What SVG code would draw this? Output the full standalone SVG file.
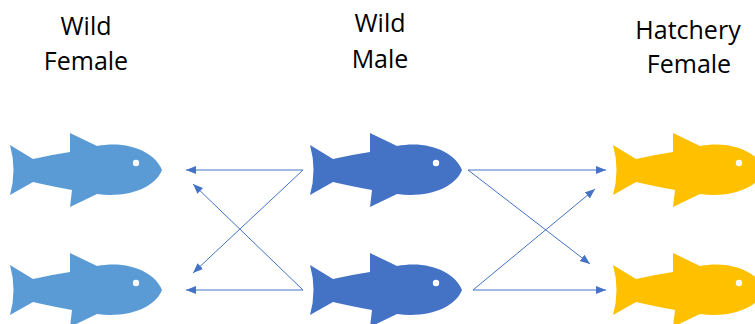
<svg xmlns="http://www.w3.org/2000/svg" width="755" height="324" viewBox="0 0 755 324">
<style>
.lbl{font-family:"Open Sans","Liberation Sans",sans-serif;font-size:25px;fill:#000;text-anchor:middle}
.wf{fill:#5B9BD5}.wm{fill:#4472C4}.hf{fill:#FFC000}
.eye{fill:#fff}
.con{stroke:#4472C4;stroke-width:1;fill:none;marker-end:url(#ah)}
</style>
<defs>
<marker id="ah" markerUnits="userSpaceOnUse" markerWidth="11" markerHeight="9" refX="10" refY="4" orient="auto">
<path d="M0,0 L10,4 L0,8 Z" fill="#4472C4"/>
</marker>
<g id="fish">
<path d="M10,145 L33,159 Q50,155 70,152 L70,133 L97,146 C128,140 155,152 162,170 C155,188 128,198 97,194 L70,207 L72,190 Q50,186 33,182 L10,195 Q17,170 10,145 Z"/>
<circle class="eye" cx="136" cy="163" r="3.2"/>
</g>
</defs>
<g id="wild-female">
<text class="lbl" x="86" y="35">Wild</text>
<text class="lbl" x="86" y="70">Female</text>
<use href="#fish" class="wf"/>
<use href="#fish" class="wf" y="120"/>
</g>
<g id="wild-male">
<text class="lbl" x="380" y="32">Wild</text>
<text class="lbl" x="380" y="68">Male</text>
<use href="#fish" class="wm" x="300"/>
<use href="#fish" class="wm" x="300" y="120"/>
</g>
<g id="hatchery-female">
<text class="lbl" x="688" y="39">Hatchery</text>
<text class="lbl" x="689" y="73">Female</text>
<use href="#fish" class="hf" x="603"/>
<use href="#fish" class="hf" x="603" y="120"/>
</g>
<g id="connectors">
<line class="con" x1="303" y1="170" x2="186" y2="170"/>
<line class="con" x1="303" y1="170" x2="193" y2="273"/>
<line class="con" x1="303" y1="290" x2="186" y2="290"/>
<line class="con" x1="303" y1="290" x2="193" y2="184"/>
<line class="con" x1="468" y1="170" x2="606" y2="170"/>
<line class="con" x1="468" y1="170" x2="590" y2="264"/>
<line class="con" x1="473" y1="290" x2="606" y2="290"/>
<line class="con" x1="473" y1="290" x2="595" y2="189"/>
</g>
</svg>
